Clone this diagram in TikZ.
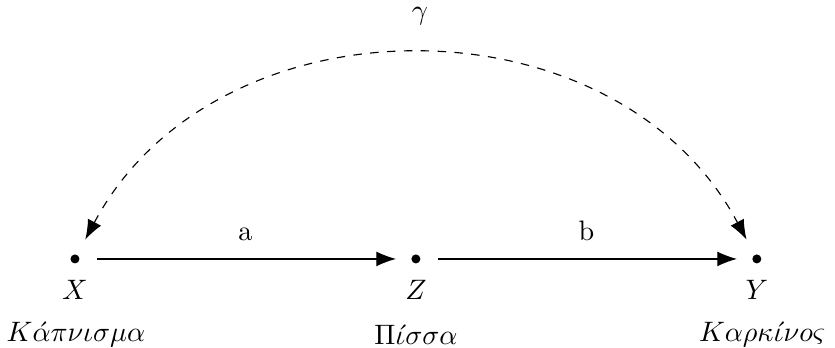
\documentclass[tikz,border=0pt]{standalone}
\usetikzlibrary{arrows.meta}
\begin{document}
\begin{tikzpicture}[
  dotnode/.style={circle,fill=black,inner sep=0pt,minimum size=3.2pt},
  lbl/.style={inner sep=0pt},
  arr/.style={-{Latex[length=7pt,width=5.3pt]}},
  darr/.style={{Latex[length=7pt,width=5.3pt]}-{Latex[length=7pt,width=5.3pt]},dashed}
]
\useasboundingbox (0,0) rectangle (10.44,4.35);
\node[dotnode] (X) at (0.9375,1.1125) {};
\node[dotnode] (Z) at (5.2,1.1125) {};
\node[dotnode] (Y) at (9.4625,1.1125) {};
\node[lbl] (xl) at (0.9375,0.72) {$X$};
\node[lbl] (zl) at (5.2,0.72) {$Z$};
\node[lbl] (yl) at (9.4625,0.72) {$Y$};
\node[lbl] (xg) at (0.95,0.17) {$K\acute{\alpha}\pi\nu\iota\sigma\mu\alpha$};
\node[lbl] (zg) at (5.2,0.17) {$\Pi\acute{\iota}\sigma\sigma\alpha$};
\node[lbl] (yg) at (9.53,0.17) {$K\alpha\rho\kappa\acute{\iota}\nu o\varsigma$};
\draw[arr,shorten <=0.215cm,shorten >=0.185cm] (X) -- node[above=0.22cm,lbl] (la) {a} (Z);
\draw[arr,shorten <=0.215cm,shorten >=0.185cm] (Z) -- node[above=0.22cm,lbl] (lb) {b} (Y);
\draw[darr,shorten <=0.21cm,shorten >=0.21cm] (X) to[out=62,in=118,looseness=1.12] (Y);
\node[lbl] (g) at (5.25,4.15) {$\gamma$};
\end{tikzpicture}
\end{document}
